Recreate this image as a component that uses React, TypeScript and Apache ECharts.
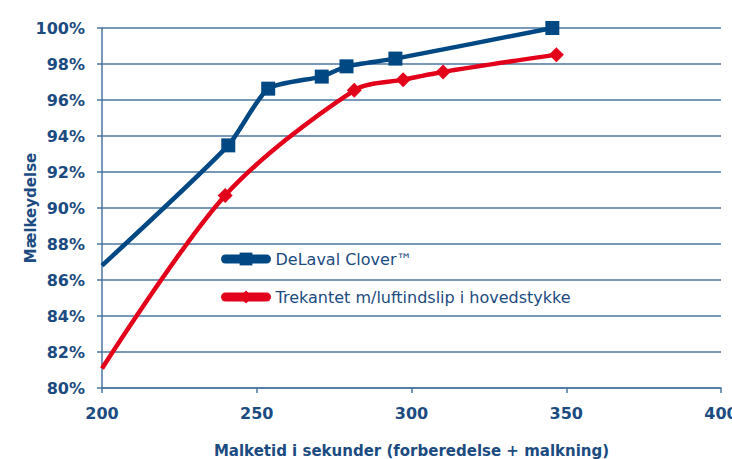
import React, { useEffect, useRef } from "react";
import * as echarts from "echarts";

const xTicks = [200, 250, 300, 350, 400];
const yTicks = [0.8, 0.82, 0.84, 0.86, 0.88, 0.9, 0.92, 0.94, 0.96, 0.98, 1.0];

const seriesNames = ["DeLaval Clover™", "Trekantet m/luftindslip i hovedstykke"];

const cloverX = [200, 240.8, 253.7, 271, 279, 294.8, 345.5];
const cloverY = [0.868, 0.9348, 0.9663, 0.973, 0.9787, 0.983, 1.0];
const cloverMarker = [false, true, true, true, true, true, true];

const trekX = [200, 239.8, 281.5, 297.3, 310.2, 346.8];
const trekY = [0.8108, 0.907, 0.9654, 0.9713, 0.9756, 0.9852];
const trekMarker = [false, true, true, true, true, true];

const BLUE = "#004884";
const RED = "#e2001a";
const TEXT = "#1b4b80";
const GRID = "#4a76a0";

function build(xs: number[], ys: number[], marks: boolean[]) {
  return xs.map((x, i) => ({
    value: [x, ys[i]],
    symbolSize: marks[i] ? undefined : 0,
  }));
}

export default function App() {
  const ref = useRef<HTMLDivElement>(null);
  useEffect(() => {
    document.body.style.margin = "0";
    const chart = echarts.init(ref.current!, undefined, { renderer: "svg" });
    chart.setOption({
      animation: false,
      textStyle: { fontFamily: "DejaVu Sans" },
      grid: { left: 102, right: 11, top: 28, bottom: 71, outerBoundsMode: "none", containLabel: false },
      legend: {
        orient: "vertical",
        left: 216,
        top: 246,
        itemWidth: 41,
        itemHeight: 16,
        itemGap: 22,
        textStyle: { color: TEXT, fontSize: 16, fontFamily: "DejaVu Sans", padding: [5, 0, 0, 4] },
        data: [
          { name: seriesNames[0], lineStyle: { width: 9, cap: "round" } },
          { name: seriesNames[1], lineStyle: { width: 9, cap: "round" } },
        ],
      },
      xAxis: {
        type: "value",
        min: 200,
        max: 400,
        interval: 50,
        name: "Malketid i sekunder (forberedelse + malkning)",
        nameLocation: "middle",
        nameGap: 55,
        nameTextStyle: { color: TEXT, fontSize: 15, fontWeight: "bold", fontFamily: "DejaVu Sans" },
        axisLine: { show: true, lineStyle: { color: GRID, width: 1.5 } },
        axisTick: { show: true, length: 5, lineStyle: { color: GRID, width: 1.5 } },
        axisLabel: {
          color: TEXT,
          fontSize: 16,
          fontWeight: "bold",
          margin: 17,
          fontFamily: "DejaVu Sans",
          formatter: (v: number) => (xTicks.includes(v) ? String(v) : ""),
        },
        splitLine: { show: false },
      },
      yAxis: {
        type: "value",
        min: 0.8,
        max: 1.0,
        interval: 0.02,
        name: "Mælkeydelse",
        nameLocation: "middle",
        nameGap: 64,
        nameMoveOverlap: false,
        nameTextStyle: { color: TEXT, fontSize: 15, fontWeight: "bold", fontFamily: "DejaVu Sans" },
        axisLine: { show: true, lineStyle: { color: GRID, width: 1.5 } },
        axisTick: { show: true, length: 5, lineStyle: { color: GRID, width: 1.5 } },
        axisLabel: {
          color: TEXT,
          fontSize: 16,
          fontWeight: "bold",
          margin: 17,
          fontFamily: "DejaVu Sans",
          formatter: (v: number) => {
            const match = yTicks.find((t) => Math.abs(t - v) < 1e-6);
            return match !== undefined ? Math.round(match * 100) + "%" : "";
          },
        },
        splitLine: { show: true, lineStyle: { color: GRID, width: 1.5 } },
      },
      series: [
        {
          name: seriesNames[0],
          type: "line",
          smooth: 0.2,
          symbol: "rect",
          symbolSize: 14,
          color: BLUE,
          lineStyle: { color: BLUE, width: 4.5 },
          itemStyle: { color: BLUE },
          data: build(cloverX, cloverY, cloverMarker),
        },
        {
          name: seriesNames[1],
          type: "line",
          smooth: 0.3,
          symbol: "diamond",
          symbolSize: 15,
          color: RED,
          lineStyle: { color: RED, width: 4.5 },
          itemStyle: { color: RED },
          data: build(trekX, trekY, trekMarker),
        },
      ],
    });
    return () => chart.dispose();
  }, []);
  return <div ref={ref} style={{ width: 732, height: 459 }} />;
}
